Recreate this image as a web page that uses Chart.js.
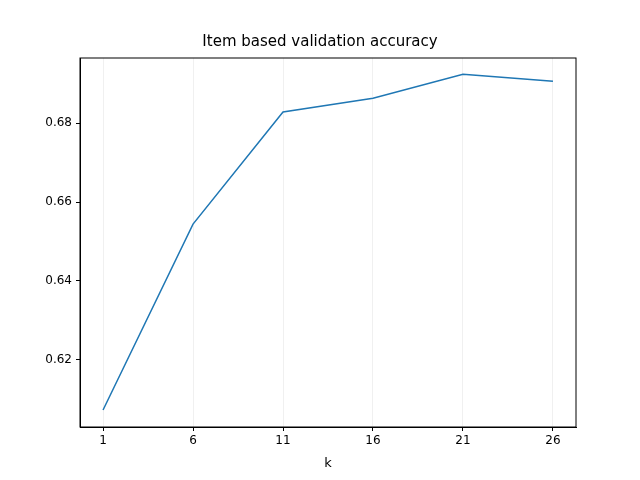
<!DOCTYPE html>
<html>
<head>
<script src="https://cdn.jsdelivr.net/npm/chart.js@4"></script>
<style>body{margin:0;background:#fff}</style>
</head>
<body>
<canvas id="c" width="640" height="480"></canvas>
<script>
// Item based validation accuracy vs k
var kValues = [1, 6, 11, 16, 21, 26];
var accuracy = [0.6073, 0.6544, 0.6828, 0.6863, 0.6924, 0.6906];
var xTicks = [1, 6, 11, 16, 21, 26];
var yTicks = [0.62, 0.64, 0.66, 0.68];

var points = kValues.map(function(k, i) { return {x: k, y: accuracy[i]}; });

var ctx = document.getElementById("c").getContext("2d");
new Chart(ctx, {
    type: 'line',
    data: {datasets: [{
        data: points,
        borderColor: '#1f77b4',
        borderWidth: 1.5,
        pointRadius: 0,
        tension: 0,
        fill: false
    }]},
    options: {
        responsive: false,
        animation: false,
        layout: {padding: {top: 0, right: 0, left: 0, bottom: 9}},
        plugins: {
            legend: {display: false},
            tooltip: {enabled: false},
            title: {display: true, text: 'Item based validation accuracy', color: '#000',
                font: {family: 'DejaVu Sans', size: 15, weight: 'normal'}, padding: {top: 33, bottom: 7}}
        },
        scales: {
            x: {
                type: 'linear', min: -0.28, max: 27.28,
                afterBuildTicks: function(s) { s.ticks = xTicks.map(function(v) { return {value: v}; }); },
                afterFit: function(s) { s.height = 44; },
                grid: {color: 'rgba(0,0,0,0.06)', drawTicks: true, tickLength: 4, tickColor: '#000'},
                border: {color: '#000'},
                ticks: {color: '#000', font: {family: 'DejaVu Sans', size: 12}, maxRotation: 0, padding: 3},
                title: {display: true, text: 'k', color: '#000', font: {family: 'DejaVu Sans', size: 13}, padding: 0}
            },
            y: {
                min: 0.603, max: 0.6965,
                afterBuildTicks: function(s) { s.ticks = yTicks.map(function(v) { return {value: v}; }); },
                afterFit: function(s) { s.width = 80; },
                grid: {display: true, drawOnChartArea: false, tickLength: 4, tickColor: '#000'},
                border: {color: '#000'},
                ticks: {color: '#000', font: {family: 'DejaVu Sans', size: 12}, padding: 4,
                    callback: function(v) { return v.toFixed(2); }}
            },
            yRight: {
                position: 'right', min: 0, max: 1,
                afterFit: function(s) { s.width = 64; },
                grid: {display: false},
                border: {display: false},
                ticks: {display: false}
            }
        }
    },
    plugins: [{
        id: 'frame',
        afterDraw: function(c) {
            var a = c.chartArea, g = c.ctx;
            g.save(); g.strokeStyle = '#000'; g.lineWidth = 1;
            g.strokeRect(a.left, a.top, a.right - a.left, a.bottom - a.top);
            g.restore();
        }
    }]
});
</script>
</body>
</html>
